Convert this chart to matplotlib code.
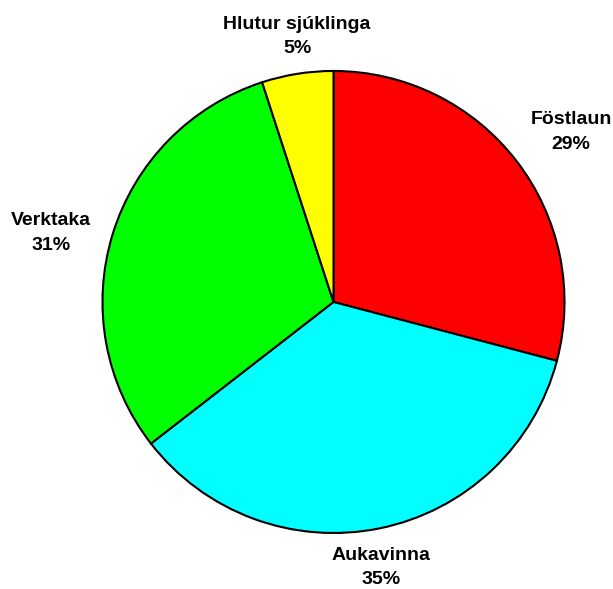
import numpy as np
import matplotlib.pyplot as plt

labels = ['Föstlaun', 'Aukavinna', 'Verktaka', 'Hlutur sjúklinga']
shares = [29.1, 35.4, 30.5, 5.0]
pct_text = ['29%', '35%', '31%', '5%']
colors = ['#ff0000', '#00ffff', '#00ff00', '#ffff00']
# label placement (Excel "best fit"): distance from centre and angle nudge
label_dist = [1.266, 1.168, 1.258, 1.160]
label_nudge = [-2.0, -1.4, 3.3, -1.2]

plt.rcParams['font.family'] = ['Liberation Sans', 'DejaVu Sans']

fig = plt.figure(figsize=(6.13, 5.89), dpi=100)
ax = fig.add_axes([0.1672, 0.0951, 0.7537, 0.7844])

wedges, _ = ax.pie(shares, colors=colors, startangle=90, counterclock=False,
                   radius=1.0, wedgeprops=dict(edgecolor='black', linewidth=1.5))

for w, lab, pct, d, nudge in zip(wedges, labels, pct_text, label_dist, label_nudge):
    mid = np.deg2rad((w.theta1 + w.theta2) / 2 + nudge)
    ax.text(d * np.cos(mid), d * np.sin(mid), f'{lab}\n{pct}',
            ha='center', va='center', fontsize=14, fontweight='bold',
            linespacing=1.6, clip_on=False)

ax.set_xlim(-1, 1)
ax.set_ylim(-1, 1)
ax.set_aspect('equal')
ax.axis('off')

fig.savefig('out.png', dpi=100)
